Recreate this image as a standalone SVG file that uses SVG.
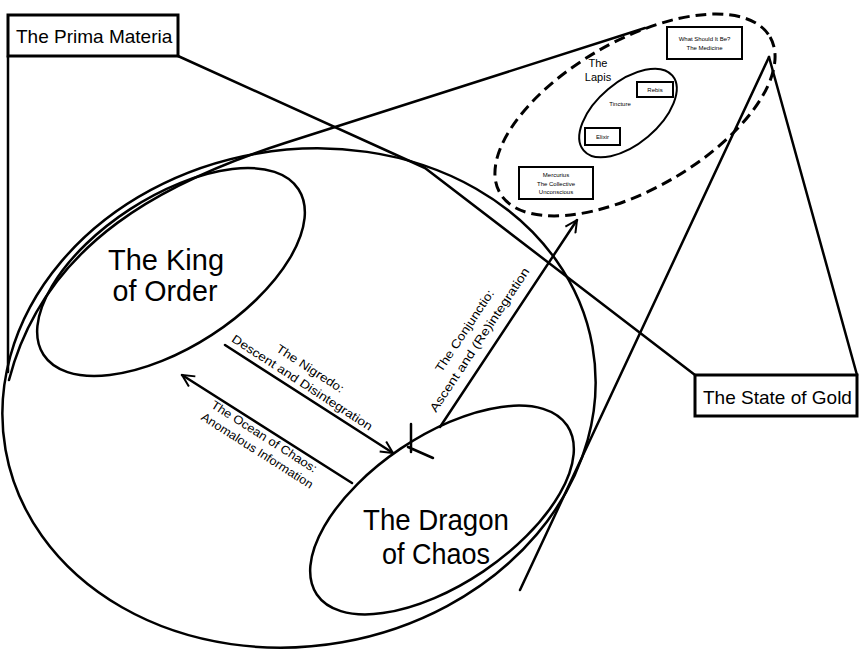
<svg xmlns="http://www.w3.org/2000/svg" width="861" height="650" viewBox="0 0 861 650">
<style>
  .ln { fill: none; stroke: #000; stroke-width: 2.5; stroke-linecap: round; stroke-linejoin: round; }
  .thin { fill: none; stroke: #000; stroke-width: 2; }
  .box { fill: #fff; stroke: #000; stroke-width: 3; }
  .sbox { fill: #fff; stroke: #000; stroke-width: 2; }
  .dash { fill: none; stroke: #000; stroke-width: 3; stroke-dasharray: 11 6; }
  text { font-family: "Liberation Sans", Arial, sans-serif; fill: #000; }
  .big { font-size: 30px; text-anchor: middle; }
  .lab { font-size: 19px; }
  .arrlab { font-size: 12px; text-anchor: middle; }
  .tiny { font-size: 6px; text-anchor: middle; }
</style>
<defs>
  <marker id="arr" viewBox="0 0 14 14" refX="13" refY="7" markerWidth="14" markerHeight="14" markerUnits="userSpaceOnUse" orient="auto">
    <path d="M1,1 L13,7 L1,13" fill="none" stroke="#000" stroke-width="2"/>
  </marker>
</defs>
<rect width="861" height="650" fill="#fff"/>

<g id="connectors">
  <!-- callout lines -->
  <path class="ln" d="M8,56 L8,372"/>
  <path class="ln" d="M178,56 L425,168 L695,375"/>
  <path class="ln" d="M857,375 L769,57"/>
  <!-- cone lines -->
  <path class="ln" d="M645,28 L285,143 C170,180 45,240 9,380"/>
  <path class="ln" d="M769,57 L520,590"/>
  <!-- arrows -->
  <line class="ln" x1="225" y1="345" x2="393" y2="453" marker-end="url(#arr)"/>
  <line class="ln" x1="352" y1="483" x2="182" y2="375" marker-end="url(#arr)"/>
  <line class="ln" x1="440" y1="427" x2="577" y2="220" marker-end="url(#arr)"/>
  <path class="ln" d="M411,424 L411,452 M408,447 L433,458"/>
  <text class="arrlab" transform="translate(308,372) rotate(33)" textLength="78" lengthAdjust="spacingAndGlyphs">The Nigredo:</text>
  <text class="arrlab" transform="translate(300,386) rotate(33)" textLength="165" lengthAdjust="spacingAndGlyphs">Descent and Disintegration</text>
  <text class="arrlab" transform="translate(262,440) rotate(32.5)" textLength="123" lengthAdjust="spacingAndGlyphs">The Ocean of Chaos:</text>
  <text class="arrlab" transform="translate(255,454) rotate(32.5)" textLength="130" lengthAdjust="spacingAndGlyphs">Anomalous Information</text>
  <text class="arrlab" transform="translate(468,333) rotate(-56.5)" textLength="96" lengthAdjust="spacingAndGlyphs">The Conjunctio:</text>
  <text class="arrlab" transform="translate(483,342) rotate(-56.5)" textLength="170" lengthAdjust="spacingAndGlyphs">Ascent and (Re)integration</text>
</g>

<g id="prima-materia-ellipse">
  <ellipse class="ln" cx="299" cy="398" rx="298" ry="248" transform="rotate(-10 299 398)"/>
</g>

<g id="king">
  <ellipse class="ln" cx="171" cy="272" rx="152" ry="75" transform="rotate(-33 171 272)"/>
  <text class="big" x="166" y="270" textLength="116" lengthAdjust="spacingAndGlyphs">The King</text>
  <text class="big" x="165" y="301" textLength="105" lengthAdjust="spacingAndGlyphs">of Order</text>
</g>

<g id="dragon">
  <ellipse class="ln" cx="442" cy="510" rx="151" ry="74" transform="rotate(-34 442 510)"/>
  <text class="big" x="436" y="530" textLength="146" lengthAdjust="spacingAndGlyphs">The Dragon</text>
  <text class="big" x="436" y="564" textLength="108" lengthAdjust="spacingAndGlyphs">of Chaos</text>
</g>

<g id="gold-zone">
  <ellipse class="dash" cx="635" cy="115" rx="156" ry="74" transform="rotate(-30 635 115)"/>
</g>

<g id="goal-box">
  <rect class="sbox" x="667" y="27" width="75" height="32"/>
  <text class="tiny" x="704.5" y="41">What Should It Be?</text>
  <text class="tiny" x="704.5" y="50">The Medicine</text>
</g>

<g id="lapis">
  <ellipse class="thin" cx="628" cy="113" rx="58" ry="31" transform="rotate(-40 628 113)"/>
  <text x="598" y="67" font-size="11" text-anchor="middle">The</text>
  <text x="598" y="81" font-size="11" text-anchor="middle">Lapis</text>
  <text class="tiny" x="620" y="106">Tincture</text>
</g>

<g id="rebis-box">
  <rect class="sbox" x="637" y="82" width="36" height="15"/>
  <text class="tiny" x="655" y="91.5">Rebis</text>
</g>

<g id="elixir-box">
  <rect class="sbox" x="585" y="128" width="35" height="17"/>
  <text class="tiny" x="602.5" y="138.5">Elixir</text>
</g>

<g id="unconscious-box">
  <rect class="sbox" x="519" y="167" width="74" height="32"/>
  <text class="tiny" x="556" y="177">Mercurius</text>
  <text class="tiny" x="556" y="185.5">The Collective</text>
  <text class="tiny" x="556" y="194">Unconscious</text>
</g>

<g id="prima-materia">
  <rect class="box" x="8" y="15" width="170" height="41"/>
  <text class="lab" x="16" y="43">The Prima Materia</text>
</g>

<g id="state-of-gold">
  <rect class="box" x="695" y="375" width="162" height="41"/>
  <text class="lab" x="703" y="404">The State of Gold</text>
</g>
</svg>
